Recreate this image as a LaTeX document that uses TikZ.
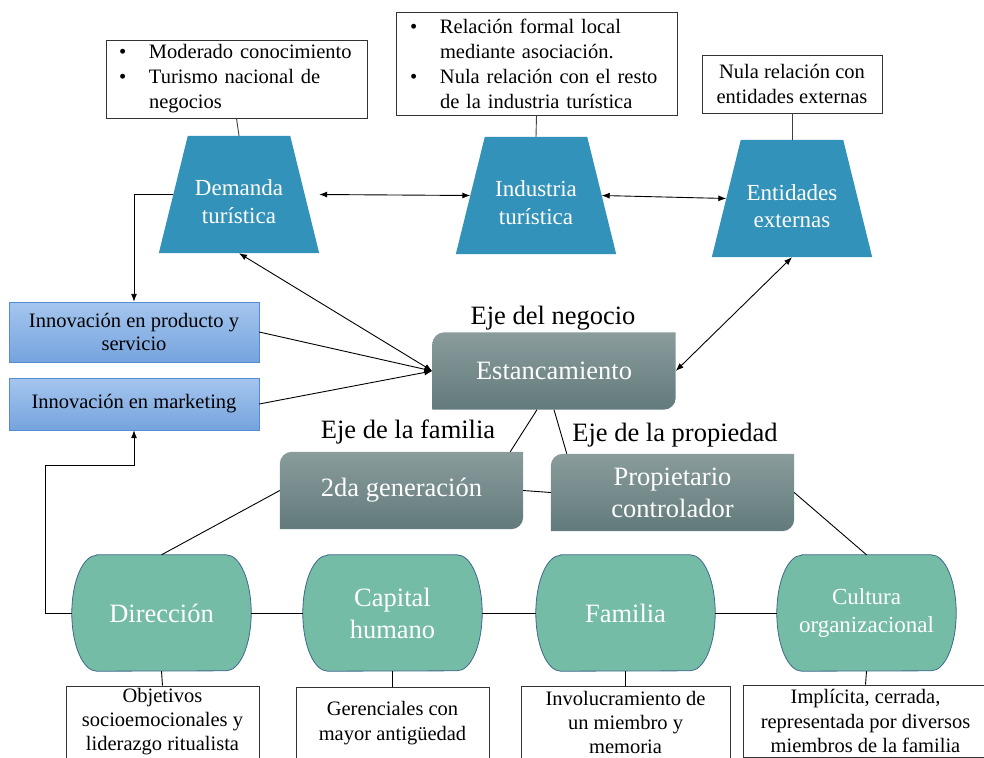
\documentclass[tikz,border=0pt]{standalone}
\usepackage{fontspec}
\setmainfont{Liberation Serif}
\usetikzlibrary{positioning}
\usetikzlibrary{arrows.meta}
\usetikzlibrary{backgrounds}

\definecolor{tierblue}{RGB}{50,146,186}
\definecolor{ovalgreen}{RGB}{117,188,166}
\definecolor{ovaledge}{RGB}{62,104,140}
\definecolor{axistop}{RGB}{138,156,156}
\definecolor{axisbot}{RGB}{98,122,124}
\definecolor{innotop}{RGB}{165,198,238}
\definecolor{innobot}{RGB}{118,163,222}
\definecolor{innoedge}{RGB}{84,141,212}

\newcommand\boxfont{\fontsize{20.5}{25}\selectfont}
\newcommand\tierfont{\fontsize{23}{27.5}\selectfont}
\newcommand\axisfont{\fontsize{26.5}{32}\selectfont}
\newcommand\bul{\makebox[30pt][l]{\textbullet}}
\newcommand\bulgap{\hspace*{30pt}}

% blue trapezoids
\newcommand\tierback[1]{%
  \fill[tierblue] (#1.south west) -- ([xshift=29pt]#1.north west)
    -- ([xshift=-29pt]#1.north east) -- (#1.south east) -- cycle;}
% green boxes with curved sides
\newcommand\ovalback[1]{%
  \draw[ovaledge, fill=ovalgreen, line width=0.8pt]
    ([xshift=25pt]#1.north west) -- ([xshift=-25pt]#1.north east)
    arc[start angle=90, end angle=-90, x radius=25pt, y radius=58pt]
    -- ([xshift=25pt]#1.south west)
    arc[start angle=270, end angle=90, x radius=25pt, y radius=58pt] -- cycle;}
% grey boxes, two corners rounded
\newcommand\axisback[1]{%
  \shade[top color=axistop, bottom color=axisbot]
    ([yshift=-12pt]#1.north west) arc[start angle=180, end angle=90, radius=12pt]
    -- (#1.north east) -- ([yshift=12pt]#1.south east)
    arc[start angle=0, end angle=-90, radius=12pt] -- (#1.south west) -- cycle;}

\tikzset{
  note/.style={draw=black!80, fill=white, inner sep=0pt, font=\boxfont, align=center, line width=0.8pt},
  tier/.style={minimum width=160pt, minimum height=117pt, inner sep=0pt},
  tiertext/.style={text=white, font=\tierfont, align=center, inner sep=0pt},
  axisbox/.style={minimum width=243pt, minimum height=77pt, inner sep=0pt, text=white, font=\axisfont, align=center},
  oval/.style={minimum width=179pt, minimum height=116pt, inner sep=0pt, text=white, font=\axisfont, align=center},
  inno/.style={draw=innoedge, top color=innotop, bottom color=innobot, font=\fontsize{20.5}{23}\selectfont,
    align=center, minimum width=250pt, inner sep=0pt},
  link/.style={line width=0.9pt},
  arrowto/.style={-{Latex[length=8pt,width=6pt]}},
  arrowboth/.style={{Latex[length=8pt,width=6pt]}-{Latex[length=8pt,width=6pt]}},
}

\begin{document}
\begin{tikzpicture}[x=1pt, y=1pt]
\useasboundingbox (0,0) rectangle (984,-757);
\clip (0,0) rectangle (984,-757);

% top row
\node[tier] (dem) at (239,-194.5) {};
\node[tier] (ind) at (536,-195.5) {};
\node[tier] (ent) at (792,-198.5) {};
\node[tiertext] (demtext) at ([yshift=-7pt]dem.center) {Demanda\\turística};
\node[tiertext] (indtext) at ([yshift=-7pt]ind.center) {Industria\\turística};
\node[tiertext] (enttext) at ([yshift=-7.5pt]ent.center) {Entidades\\externas};

\node[note, minimum width=261pt, minimum height=78pt, text width=235pt, align=left] (demnote) at (236.5,-79)
  {\bul Moderado conocimiento\\\bul Turismo nacional de\\\bulgap negocios};
\node[note, minimum width=281pt, minimum height=103pt, text width=253pt, align=left] (indnote) at (536.5,-63.5)
  {\bul Relación formal local\\\bulgap mediante asociación.\\\bul Nula relación con el resto\\\bulgap de la industria turística};
\node[note, minimum width=180pt, minimum height=58pt] (entnote) at (792,-84) {Nula relación con\\entidades externas};

\draw[link, black!75] (demnote.south) -- (dem.north);
\draw[link, black!75] (indnote.south) -- (ind.north);
\draw[link, black!75] (entnote.south) -- (ent.north);

\draw[link, arrowboth] (dem.east) -- ([xshift=14.5pt]ind.west);
\draw[link, arrowboth] ([xshift=-14.5pt]ind.east) -- ([xshift=14.5pt]ent.west);

% middle
\node[inno, minimum height=60pt] (prod) at (134,-332) {Innovación en producto y\\servicio};
\node[inno, minimum height=52pt] (mkt) at (134,-404) {Innovación en marketing};

\node[axisbox] (est) at (554,-371) {Estancamiento};
\node[axisbox] (gen) at (401.5,-490.5) {2da generación};
\node[axisbox] (prop) at (672.5,-492.5) {Propietario\\controlador};

\node[font=\axisfont] (negocio) at (553,-318) {Eje del negocio};
\node[font=\axisfont] (familia) at (408,-432) {Eje de la familia};
\node[font=\axisfont] (propiedad) at (675,-435) {Eje de la propiedad};

% bottom row
\node[oval] (dir) at (161.5,-613) {Dirección};
\node[oval] (cap) at (392.5,-613) {Capital\\humano};
\node[oval] (fam) at (625.5,-613) {Familia};
\node[oval, font=\tierfont] (cul) at (866.5,-613) {Cultura\\organizacional};

\node[note, minimum width=193pt, minimum height=72pt, font=\fontsize{20.5}{24}\selectfont] (dirnote) at (162.5,-722)
  {Objetivos\\socioemocionales y\\liderazgo ritualista};
\node[note, minimum width=193pt, minimum height=72pt] (capnote) at (392.5,-723) {Gerenciales con\\mayor antigüedad};
\node[note, minimum width=209pt, minimum height=72pt, font=\fontsize{20.5}{24}\selectfont] (famnote) at (625.5,-722)
  {Involucramiento de\\un miembro y\\memoria};
\node[note, minimum width=245pt, minimum height=72pt, font=\fontsize{20.5}{24.5}\selectfont] (culnote) at (865.5,-721)
  {Implícita, cerrada,\\representada por diversos\\miembros de la familia};

\begin{scope}[on background layer]
  \tierback{dem}
  \tierback{ind}
  \tierback{ent}
  \axisback{est}
  \axisback{gen}
  \axisback{prop}
  \ovalback{dir}
  \ovalback{cap}
  \ovalback{fam}
  \ovalback{cul}
\end{scope}

\draw[link] (dir.east) -- (cap.west);
\draw[link] (cap.east) -- (fam.west);
\draw[link] (fam.east) -- (cul.west);
\draw[link] (dir.south) -- (dirnote.north);
\draw[link] (cap.south) -- (capnote.north);
\draw[link] (fam.south) -- (famnote.north);
\draw[link] (cul.south) -- (culnote.north);

\draw[link] (gen.west) -- (dir.north);
\draw[link] (prop.east) -- (cul.north);
\draw[link] ([xshift=-17pt]est.south) -- ([xshift=-13pt]gen.north east);
\draw[link] (est.south) -- ([xshift=16pt]prop.north west);
\draw[link] (gen.east) -- (prop.west);

\draw[link, arrowto] (prod.east) -- (est.west);
\draw[link, arrowto] (mkt.east) -- (est.west);
\draw[link, arrowboth] (dem.south) -- (est.west);
\draw[link, arrowboth] (est.east) -- (ent.south);

\draw[link, arrowto] ([xshift=14.5pt]dem.west) -| (prod.north);
\coordinate (bend) at (45,-465);
\draw[link, arrowto] (dir.west) -| (bend) -| (mkt.south);
\end{tikzpicture}
\end{document}
